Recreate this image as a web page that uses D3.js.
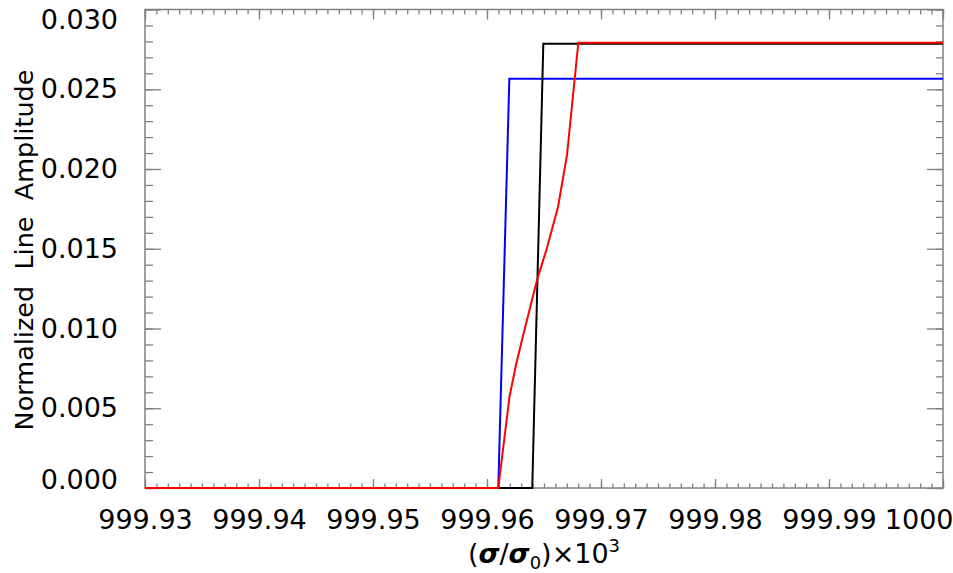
<!DOCTYPE html>
<html>
<head>
<meta charset="utf-8">
<script src="https://cdn.jsdelivr.net/npm/d3@7"></script>
<style>
  html, body { margin: 0; padding: 0; background: #fff; }
  svg { display: block; }
  text { font-family: "DejaVu Sans", sans-serif; fill: #000; }
</style>
</head>
<body>
<svg id="chart" width="953" height="573"></svg>
<script>
// ---- data ----
const xTickValues = [999.93, 999.94, 999.95, 999.96, 999.97, 999.98, 999.99, 1000.00];
const xTickLabels = ["999.93", "999.94", "999.95", "999.96", "999.97", "999.98", "999.99", "1000"];
const yTickValues = [0.000, 0.005, 0.010, 0.015, 0.020, 0.025, 0.030];
const yTickLabels = ["0.000", "0.005", "0.010", "0.015", "0.020", "0.025", "0.030"];

const blueX = [999.93, 999.96099, 999.96196, 1000.0];
const blueY = [0.0, 0.0, 0.02566, 0.02566];

const blackX = [999.93, 999.96397, 999.96494, 1000.0];
const blackY = [0.0, 0.0, 0.02786, 0.02786];

const redX = [999.93, 999.96099, 999.96197, 999.96254, 999.96307, 999.96377, 999.96439,
              999.96526, 999.96623, 999.96702, 999.96801, 1000.0];
const redY = [0.0, 0.0, 0.00571, 0.00771, 0.00928, 0.01129, 0.01304,
              0.01505, 0.01762, 0.02088, 0.02792, 0.02792];

// ---- layout ----
const svg = d3.select("#chart");
const L = 145, R = 943, T = 9.5, B = 488;
const x = d3.scaleLinear().domain([999.93, 1000.0]).range([L, R]);
const y = d3.scaleLinear().domain([0, 0.030]).range([B, T]);
const axisColor = "#808080";

const xMinor = d3.range(0, 71).map(i => 999.93 + i * 0.001);
const yMinor = d3.range(0, 31).map(i => i * 0.001);

function styleAxis(g) {
  g.select(".domain").remove();
  g.selectAll(".tick line").attr("stroke", axisColor).attr("stroke-width", 1.3);
}

// frame
svg.append("rect")
  .attr("x", L).attr("y", T).attr("width", R - L).attr("height", B - T)
  .attr("fill", "none").attr("stroke", axisColor).attr("stroke-width", 1.5);

// minor ticks
svg.append("g").attr("transform", `translate(0,${B})`)
  .call(d3.axisBottom(x).tickValues(xMinor).tickSize(-4.5).tickFormat(""))
  .call(styleAxis);
svg.append("g").attr("transform", `translate(0,${T})`)
  .call(d3.axisTop(x).tickValues(xMinor).tickSize(-5).tickFormat(""))
  .call(styleAxis);
svg.append("g").attr("transform", `translate(${L},0)`)
  .call(d3.axisLeft(y).tickValues(yMinor).tickSize(-8).tickFormat(""))
  .call(styleAxis);
svg.append("g").attr("transform", `translate(${R},0)`)
  .call(d3.axisRight(y).tickValues(yMinor).tickSize(-7).tickFormat(""))
  .call(styleAxis);

// major ticks with labels
const xAx = svg.append("g").attr("transform", `translate(0,${B})`)
  .call(d3.axisBottom(x).tickValues(xTickValues).tickSize(-9).tickPadding(22)
        .tickFormat((d, i) => xTickLabels[i]))
  .call(styleAxis);
xAx.selectAll(".tick text").attr("font-size", 27).attr("font-family", "DejaVu Sans").attr("fill", "#000");
xAx.selectAll(".tick").filter((d, i) => i === xTickValues.length - 1)
  .select("text").attr("text-anchor", "end").attr("x", 953 - R);

svg.append("g").attr("transform", `translate(0,${T})`)
  .call(d3.axisTop(x).tickValues(xTickValues).tickSize(-10).tickFormat(""))
  .call(styleAxis);

const yAx = svg.append("g").attr("transform", `translate(${L},0)`)
  .call(d3.axisLeft(y).tickValues(yTickValues).tickSize(-16).tickPadding(27)
        .tickFormat((d, i) => yTickLabels[i]))
  .call(styleAxis);
yAx.selectAll(".tick text").attr("font-size", 27).attr("font-family", "DejaVu Sans").attr("fill", "#000");
yAx.selectAll(".tick").filter((d, i) => i === 0).select("text").attr("y", -8.5);
yAx.selectAll(".tick").filter((d, i) => i === yTickValues.length - 1).select("text").attr("y", 10.5);

svg.append("g").attr("transform", `translate(${R},0)`)
  .call(d3.axisRight(y).tickValues(yTickValues).tickSize(-16).tickFormat(""))
  .call(styleAxis);

// ---- lines ----
const line = d3.line().x(d => x(d[0])).y(d => y(d[1]));
const series = [
  { xs: blueX, ys: blueY, color: "#0000ff" },
  { xs: blackX, ys: blackY, color: "#000000" },
  { xs: redX, ys: redY, color: "#ff0000" }
];
series.forEach(s => {
  svg.append("path")
    .datum(s.xs.map((v, i) => [v, s.ys[i]]))
    .attr("d", line)
    .attr("fill", "none")
    .attr("stroke", s.color)
    .attr("stroke-width", 2)
    .attr("stroke-linejoin", "miter");
});

// ---- titles ----
svg.append("text")
  .attr("transform", "translate(33,250) rotate(-90)")
  .attr("text-anchor", "middle")
  .attr("font-size", 25.5)
  .attr("xml:space", "preserve")
  .style("white-space", "pre")
  .text("Normalized  Line  Amplitude");

const xt = svg.append("text")
  .attr("x", (L + R) / 2).attr("y", 563)
  .attr("text-anchor", "middle")
  .attr("font-size", 27);
xt.append("tspan").text("(");
xt.append("tspan").attr("font-style", "italic").attr("font-weight", "bold").text("σ");
xt.append("tspan").text("/");
xt.append("tspan").attr("font-style", "italic").attr("font-weight", "bold").text("σ");
xt.append("tspan").attr("font-size", 18).attr("dy", 6).text("0");
xt.append("tspan").attr("dy", -6).text(")×10");
xt.append("tspan").attr("font-size", 18).attr("dy", -11).text("3");
</script>
</body>
</html>
